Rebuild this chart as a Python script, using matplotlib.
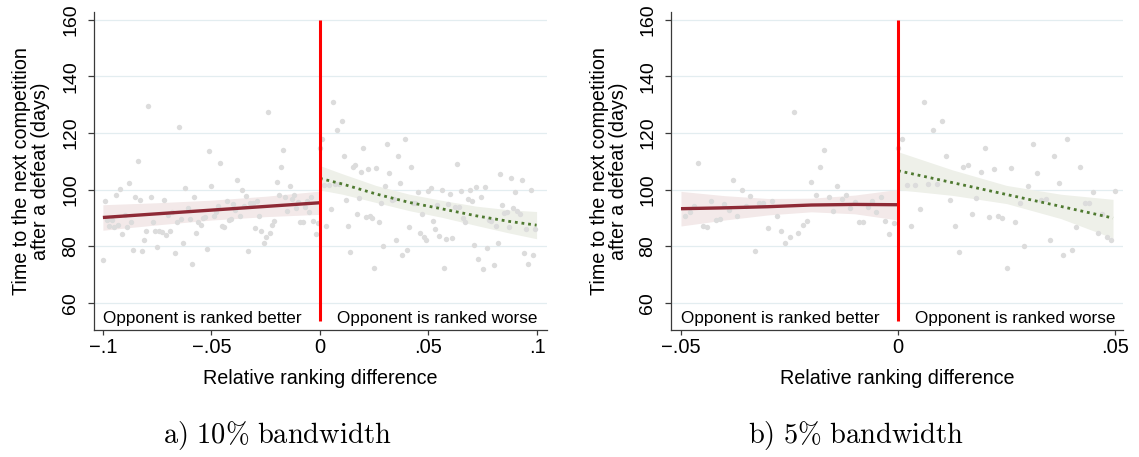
import numpy as np
import matplotlib
matplotlib.use("Agg")
import matplotlib.pyplot as plt

plt.rcParams['font.family'] = ['Liberation Sans', 'DejaVu Sans']
plt.rcParams['mathtext.fontset'] = 'cm'

# ---------------- binned data (bin value of relative ranking difference, mean days) ----------
x_left = [-0.100, -0.099, -0.098, -0.097, -0.096, -0.095, -0.094, -0.093, -0.092, -0.091,
          -0.090, -0.089, -0.088, -0.087, -0.086, -0.085, -0.084, -0.083, -0.082, -0.081,
          -0.080, -0.079, -0.078, -0.077, -0.076, -0.075, -0.074, -0.073, -0.072, -0.071,
          -0.070, -0.069, -0.068, -0.067, -0.066, -0.065, -0.064, -0.063, -0.062, -0.061,
          -0.060, -0.059, -0.058, -0.057, -0.056, -0.055, -0.054, -0.053, -0.052, -0.051,
          -0.050, -0.049, -0.048, -0.047, -0.046, -0.045, -0.044, -0.043, -0.042, -0.041,
          -0.040, -0.039, -0.038, -0.037, -0.036, -0.035, -0.034, -0.033, -0.032, -0.031,
          -0.030, -0.029, -0.028, -0.027, -0.026, -0.025, -0.024, -0.023, -0.022, -0.021,
          -0.020, -0.019, -0.018, -0.017, -0.016, -0.015, -0.014, -0.013, -0.012, -0.011,
          -0.010, -0.009, -0.008, -0.007, -0.006, -0.005, -0.004, -0.003, -0.002, -0.001]
y_left = [75.1, 95.9, 89.4, 87.3, 89.4, 86.8, 98.2, 87.4, 100.4, 84.5,
          91.2, 86.7, 102.4, 88.6, 78.6, 97.4, 110.2, 96.5, 78.2, 82.2,
          85.4, 129.6, 97.6, 88.5, 85.5, 79.8, 85.3, 85.2, 96.2, 84.0,
          91.2, 85.5, 92.1, 77.5, 88.5, 122.0, 89.8, 81.3, 100.5, 93.4,
          89.6, 73.9, 97.5, 84.8, 88.7, 87.6, 90.1, 90.2, 79.2, 113.8,
          101.2, 90.8, 92.2, 94.4, 109.3, 87.1, 86.7, 96.0, 89.4, 89.6,
          95.1, 92.9, 103.5, 90.8, 99.9, 94.1, 97.9, 78.4, 95.2, 95.2,
          86.4, 95.9, 90.7, 85.3, 81.1, 83.4, 127.4, 84.7, 87.6, 89.1,
          102.7, 98.1, 107.9, 114.1, 97.4, 92.5, 101.3, 96.8, 98.0, 93.5,
          95.5, 88.5, 88.7, 93.9, 96.1, 92.0, 97.4, 89.1, 84.2, 88.4]

x_right = [0.000, 0.001, 0.002, 0.003, 0.004, 0.005, 0.006, 0.007, 0.008, 0.009,
           0.010, 0.011, 0.012, 0.013, 0.014, 0.015, 0.016, 0.017, 0.018, 0.019,
           0.020, 0.021, 0.022, 0.023, 0.024, 0.025, 0.026, 0.027, 0.028, 0.029,
           0.030, 0.031, 0.032, 0.033, 0.034, 0.035, 0.036, 0.037, 0.038, 0.039,
           0.040, 0.041, 0.042, 0.043, 0.044, 0.045, 0.046, 0.047, 0.048, 0.049,
           0.050, 0.051, 0.052, 0.053, 0.054, 0.055, 0.056, 0.057, 0.058, 0.059,
           0.060, 0.061, 0.062, 0.063, 0.064, 0.065, 0.066, 0.067, 0.068, 0.069,
           0.070, 0.071, 0.072, 0.073, 0.074, 0.075, 0.076, 0.077, 0.078, 0.079,
           0.080, 0.081, 0.082, 0.083, 0.084, 0.085, 0.086, 0.087, 0.088, 0.089,
           0.090, 0.091, 0.092, 0.093, 0.094, 0.095, 0.096, 0.097, 0.098, 0.099]
y_right = [114.7, 117.9, 101.8, 87.2, 101.8, 93.3, 130.9, 102.0, 121.1, 102.1,
           124.4, 111.9, 96.5, 87.2, 77.9, 108.1, 108.8, 91.4, 96.9, 106.1,
           114.6, 90.5, 107.4, 90.6, 90.0, 72.4, 107.8, 88.5, 95.4, 80.2,
           101.3, 116.0, 105.9, 96.2, 96.7, 82.4, 111.9, 102.4, 76.8, 117.8,
           78.9, 86.8, 107.9, 95.4, 95.3, 99.2, 84.7, 91.6, 83.3, 82.2,
           99.4, 100.6, 89.1, 86.2, 94.7, 83.5, 100.0, 72.2, 82.6, 95.1,
           98.4, 82.9, 93.8, 109.2, 93.8, 99.6, 90.0, 88.7, 96.7, 99.9,
           95.9, 80.5, 100.9, 75.6, 97.4, 72.0, 100.8, 79.6, 89.4, 89.1,
           73.3, 87.3, 81.3, 105.5, 94.6, 91.8, 92.1, 86.8, 104.1, 93.6,
           99.1, 92.6, 91.3, 103.4, 77.6, 86.2, 73.9, 100.0, 76.8, 86.2]

# ---------------- local fits with 95% CI ----------------
# panel a (10% bandwidth)
fitA_left_x = [-0.100, -0.075, -0.050, -0.025, 0.000]
fitA_left_y = [90.2, 91.5, 92.8, 94.1, 95.4]
fitA_left_lo = [85.7, 87.6, 89.3, 90.5, 91.3]
fitA_left_hi = [94.7, 95.4, 96.3, 97.7, 99.5]

fitA_right_x = [0.000, 0.0104, 0.0258, 0.0412, 0.0565, 0.0719, 0.0873, 0.0998]
fitA_right_y = [104.0, 102.0, 98.5, 95.5, 93.2, 90.8, 88.8, 87.5]
fitA_right_lo = [99.9, 98.4, 95.5, 92.6, 90.2, 87.4, 84.7, 82.7]
fitA_right_hi = [108.5, 105.6, 101.5, 98.4, 96.2, 94.2, 92.9, 92.3]

# panel b (5% bandwidth)
fitB_left_x = [-0.050, -0.040, -0.030, -0.020, -0.010, 0.000]
fitB_left_y = [93.3, 93.6, 94.0, 94.6, 94.8, 94.7]
fitB_left_lo = [87.2, 89.3, 91.1, 92.2, 91.5, 89.3]
fitB_left_hi = [99.4, 97.9, 96.9, 97.0, 98.1, 100.1]

fitB_right_x = [0.000, 0.0125, 0.025, 0.0375, 0.0495]
fitB_right_y = [106.7, 102.5, 98.3, 94.1, 90.0]
fitB_right_lo = [100.0, 98.0, 95.1, 89.8, 82.9]
fitB_right_hi = [113.4, 107.0, 101.5, 98.4, 96.6]

cutoff = 0.0
cutoff_span = (53.5, 160.0)

y_ticks = [60, 80, 100, 120, 140, 160]
xticksA = [-0.1, -0.05, 0.0, 0.05, 0.1]
xlabelsA = ["\u2212.1", "\u2212.05", "0", ".05", ".1"]
xticksB = [-0.05, 0.0, 0.05]
xlabelsB = ["\u2212.05", "0", ".05"]

label_better = "Opponent is ranked better"
label_worse = "Opponent is ranked worse"
ylabel = "Time to the next competition\nafter a defeat (days)"
xlabel = "Relative ranking difference"
captionA = r"$\mathrm{a)\ 10\%\ bandwidth}$"
captionB = r"$\mathrm{b)\ 5\%\ bandwidth}$"

# ---------------- styling ----------------
C_PTS = "#dcdcdc"
C_RED_LINE = "#8e2a36"
C_RED_BAND = "#f3e9e9"
C_GRN_LINE = "#4f7a30"
C_GRN_BAND = "#eef0e9"
C_CUT = "#ff0000"
C_GRID = "#e3edf0"
C_AX = "#3a3a3a"

W, H = 1139, 457
fig = plt.figure(figsize=(W / 100, H / 100), dpi=100)
axA = fig.add_axes([94 / W, 1 - 330 / H, 453 / W, 318 / H])
axB = fig.add_axes([671 / W, 1 - 330 / H, 452 / W, 318 / H])

xa = np.array(x_left + x_right)
ya = np.array(y_left + y_right)
maskB = (xa > -0.05) & (xa <= 0.05)


def draw(ax, xs, ys, fl, fr, xlim, xticks, xlabels):
    ax.fill_between(fl[0], fl[2], fl[3], color=C_RED_BAND, lw=0, zorder=1)
    ax.fill_between(fr[0], fr[2], fr[3], color=C_GRN_BAND, lw=0, zorder=1)
    ax.scatter(xs, ys, s=15, color=C_PTS, lw=0, zorder=2)
    ax.plot(fl[0], fl[1], color=C_RED_LINE, lw=2.4, zorder=3, solid_capstyle='butt')
    ax.plot(fr[0], fr[1], color=C_GRN_LINE, lw=2.0, ls=(0, (1, 1.4)), zorder=3)
    ax.vlines(cutoff, cutoff_span[0], cutoff_span[1], color=C_CUT, lw=2.2, zorder=4)

    ax.set_xlim(*xlim)
    ax.set_ylim(50.5, 162.7)
    ax.set_yticks(y_ticks)
    ax.set_yticklabels([str(v) for v in y_ticks])
    ax.set_xticks(xticks)
    ax.set_xticklabels(xlabels)
    ax.grid(axis='y', color=C_GRID, lw=0.9, zorder=0)
    ax.set_axisbelow(True)
    for s in ('top', 'right'):
        ax.spines[s].set_visible(False)
    for s in ('left', 'bottom'):
        ax.spines[s].set_color(C_AX)
        ax.spines[s].set_linewidth(0.9)
    ax.tick_params(axis='y', direction='out', length=4, width=0.9, color=C_AX,
                   labelsize=14, pad=6.5, labelrotation=90)
    for lab in ax.get_yticklabels():
        lab.set_va('center')
    ax.tick_params(axis='x', direction='out', length=3.5, width=0.9, color=C_AX,
                   labelsize=14.5, pad=2.5)

    ax.text(xticks[0], 52.8, label_better, ha='left', va='baseline', fontsize=12.3, zorder=5)
    ax.text(xticks[-1], 52.8, label_worse, ha='right', va='baseline', fontsize=12.3, zorder=5)

    ax.set_ylabel(ylabel, fontsize=14.2, linespacing=1.0, ha='center', va='center')
    ax.yaxis.set_label_coords(-0.138, 0.5)
    ax.set_xlabel(xlabel, fontsize=14.2, va='center')
    ax.xaxis.set_label_coords(0.5, -0.154)


draw(axA, xa, ya,
     (fitA_left_x, fitA_left_y, fitA_left_lo, fitA_left_hi),
     (fitA_right_x, fitA_right_y, fitA_right_lo, fitA_right_hi),
     (-0.1041, 0.1046), xticksA, xlabelsA)
draw(axB, xa[maskB], ya[maskB],
     (fitB_left_x, fitB_left_y, fitB_left_lo, fitB_left_hi),
     (fitB_right_x, fitB_right_y, fitB_right_lo, fitB_right_hi),
     (-0.0523, 0.0518), xticksB, xlabelsB)

fig.text(277 / W, 1 - 436 / H, captionA, ha='center', va='center', fontsize=20.5)
fig.text(856 / W, 1 - 436 / H, captionB, ha='center', va='center', fontsize=20.5)

fig.savefig("out.png", dpi=100)
